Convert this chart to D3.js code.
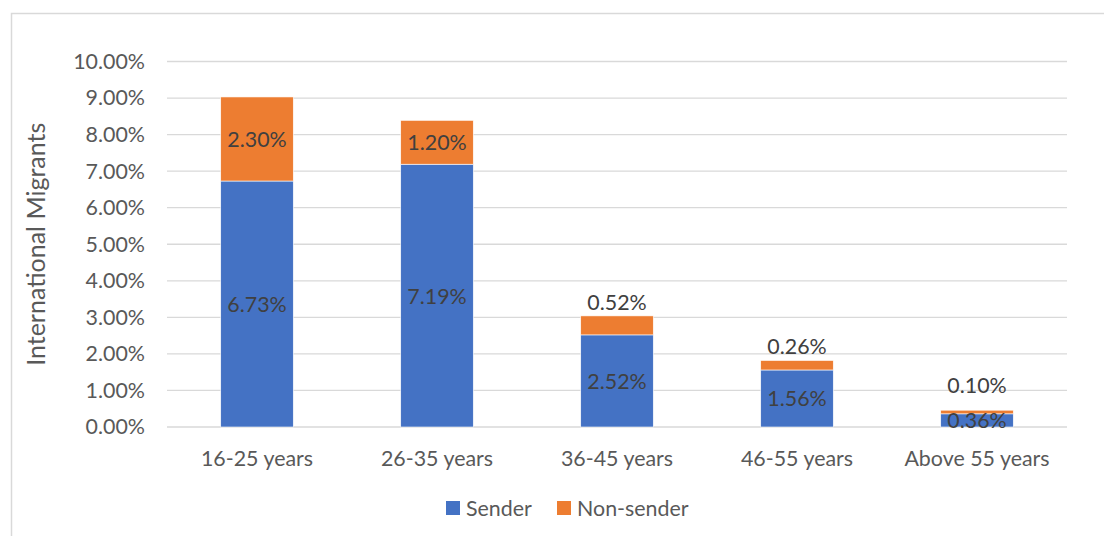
<!DOCTYPE html>
<html>
<head>
<meta charset="utf-8">
<script src="https://cdn.jsdelivr.net/npm/d3@7"></script>
<style>
  html, body { margin: 0; padding: 0; background: #fff; }
  svg { display: block; font-family: Lato, "Open Sans", sans-serif; }
</style>
</head>
<body>
<svg id="chart" width="1104" height="536"></svg>
<script>
const categories = ["16-25 years", "26-35 years", "36-45 years", "46-55 years", "Above 55 years"];
const sender = [6.73, 7.19, 2.52, 1.56, 0.36];
const nonSender = [2.30, 1.20, 0.52, 0.26, 0.10];
const seriesNames = ["Sender", "Non-sender"];
const yTicks = [0, 1, 2, 3, 4, 5, 6, 7, 8, 9, 10];
const colors = ["#4472C4", "#ED7D31"];

const FS = "21.4px";
const svg = d3.select("#chart");

// chart border
svg.append("rect")
  .attr("x", 11.5).attr("y", 13.5)
  .attr("width", 1200).attr("height", 600)
  .attr("fill", "none").attr("stroke", "#D9D9D9").attr("stroke-width", 1.5);

const pLeft = 167, pRight = 1067, pTop = 61.5, pBottom = 427;
const x = d3.scaleBand().domain(categories).range([pLeft, pRight]).paddingInner(0.597).paddingOuter(0.2985);
const y = d3.scaleLinear().domain([0, 10]).range([pBottom, pTop]);

// gridlines
svg.append("g").selectAll("line").data(yTicks).join("line")
  .attr("x1", pLeft).attr("x2", pRight)
  .attr("y1", d => y(d)).attr("y2", d => y(d))
  .attr("stroke", "#D9D9D9").attr("stroke-width", 1.3);

// y axis
const yAxis = d3.axisLeft(y).tickValues(yTicks).tickSize(0).tickPadding(22)
  .tickFormat(d => d.toFixed(2) + "%");
const yg = svg.append("g").attr("transform", `translate(${pLeft},0)`).call(yAxis);
yg.select(".domain").remove();
yg.selectAll("text").attr("fill", "#595959").style("font-size", FS).style("font-family", "Lato, sans-serif");

// x axis
const xAxis = d3.axisBottom(x).tickSize(0).tickPadding(24);
const xg = svg.append("g").attr("transform", `translate(0,${pBottom})`).call(xAxis);
xg.select(".domain").remove();
xg.selectAll("text").attr("fill", "#595959").style("font-size", FS).style("font-family", "Lato, sans-serif");

// stacked data
const rows = categories.map((c, i) => ({ cat: c, Sender: sender[i], "Non-sender": nonSender[i] }));
const stack = d3.stack().keys(seriesNames)(rows);

const g = svg.append("g");
stack.forEach((layer, li) => {
  g.append("g").selectAll("rect").data(layer).join("rect")
    .attr("x", d => x(d.data.cat))
    .attr("width", x.bandwidth())
    .attr("y", d => y(d[1]))
    .attr("height", d => y(d[0]) - y(d[1]))
    .attr("fill", colors[li])
    .attr("stroke", "#fff").attr("stroke-width", 0.6);
});

// labels
const lbl = svg.append("g").style("font-size", FS).style("font-family", "Lato, sans-serif").attr("fill", "#404040");
stack.forEach((layer, li) => {
  layer.forEach((d, i) => {
    const v = d[1] - d[0];
    let cy;
    if (li === 1 && (y(d[0]) - y(d[1])) < 30) {
      const extra = (y(d[0]) - y(d[1])) < 8 ? 25 : 14;
      cy = y(d[1]) - extra;
    } else {
      cy = (y(d[0]) + y(d[1])) / 2;
    }
    lbl.append("text")
      .attr("x", x(d.data.cat) + x.bandwidth() / 2)
      .attr("y", cy)
      .attr("text-anchor", "middle")
      .attr("dominant-baseline", "central")
      .text(v.toFixed(2) + "%");
  });
});

// y axis title
svg.append("text")
  .attr("transform", `translate(35,${(pTop + pBottom) / 2}) rotate(-90)`)
  .attr("text-anchor", "middle")
  .attr("dominant-baseline", "central")
  .attr("fill", "#595959")
  .style("font-size", "25px")
  .text("International Migrants");

// legend
const legendX = [446, 557];
const leg = svg.append("g");
seriesNames.forEach((name, i) => {
  leg.append("rect").attr("x", legendX[i]).attr("y", 501).attr("width", 14).attr("height", 14).attr("fill", colors[i]);
  leg.append("text").attr("x", legendX[i] + 20).attr("y", 508)
    .attr("dominant-baseline", "central").attr("fill", "#595959")
    .style("font-size", FS).text(name);
});
</script>
</body>
</html>
